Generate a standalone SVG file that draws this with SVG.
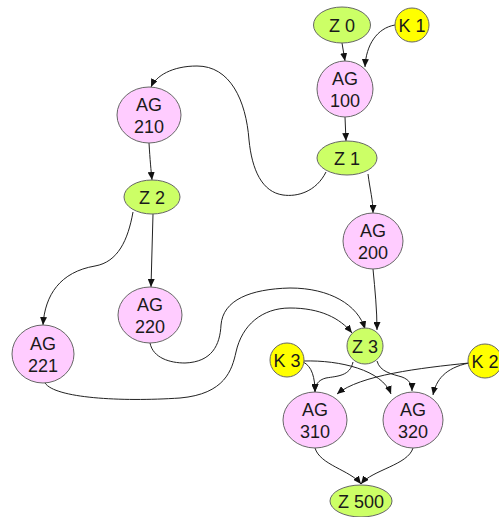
<svg xmlns="http://www.w3.org/2000/svg" width="499" height="517" viewBox="0 0 499 517">
  <style>
    .edge { fill: none; stroke: #222; stroke-width: 1; marker-end: url(#arrow); }
    .z { fill: #ccff66; stroke: #666; stroke-width: 1; }
    .ag { fill: #ffccff; stroke: #666; stroke-width: 1; }
    .k { fill: #ffff00; stroke: #666; stroke-width: 1; }
    text { font-family: "Liberation Sans", Arial, sans-serif; font-size: 18px; fill: #1a1a1a; text-anchor: middle; }
  </style>
  <defs>
    <marker id="arrow" markerUnits="userSpaceOnUse" markerWidth="8" markerHeight="7" refX="8" refY="3.5" orient="auto">
      <path d="M0,0 L8,3.5 L0,7 z" fill="#111"/>
    </marker>
  </defs>
  <rect width="499" height="517" fill="#fff"/>

  <g id="connectors">
    <path class="edge" d="M342,43 L345,61"/>
    <path class="edge" d="M395,25 C377,28 366,45 365,67"/>
    <path class="edge" d="M345,117 L346,141"/>
    <path class="edge" d="M326,172 C316,192 297,197 283,195 C262,192 252,170 249,140 C246,100 230,66 197,66 C172,66 156,76 151,87"/>
    <path class="edge" d="M368,174 C370,190 373,200 373,213"/>
    <path class="edge" d="M149,143 C150,160 151,170 152,180"/>
    <path class="edge" d="M133,212 C128,240 118,262 95,266 C60,272 45,295 43,325"/>
    <path class="edge" d="M153,214 L151,287"/>
    <path class="edge" d="M150,343 C153,358 170,363 185,363 C212,362 220,345 221,325 C223,300 250,289 290,288 C330,288 358,305 365,329"/>
    <path class="edge" d="M45,383 C55,398 120,402 180,398 C225,394 232,370 236,352 C242,325 262,308 290,308 C320,308 340,318 352,333"/>
    <path class="edge" d="M373,269 C375,290 377,310 377,330"/>
    <path class="edge" d="M353,362 C350,376 338,376 326,378 C318,380 315,385 315,392"/>
    <path class="edge" d="M303,362 C312,366 315,378 315,392"/>
    <path class="edge" d="M304,361 C340,360 382,370 391,394"/>
    <path class="edge" d="M377,361 C380,372 392,374 402,377 C410,380 412,385 412,391"/>
    <path class="edge" d="M469,363 C420,368 360,375 337,394"/>
    <path class="edge" d="M469,363 C445,368 436,380 433,395"/>
    <path class="edge" d="M315,448 C320,465 350,470 361,484"/>
    <path class="edge" d="M413,448 C408,465 372,470 361,484"/>
  </g>

  <g id="Z0"><ellipse class="z" cx="342" cy="25" rx="28.5" ry="18"/><text x="342" y="32">Z 0</text></g>
  <g id="K1"><circle class="k" cx="412" cy="25" r="17"/><text x="412" y="32">K 1</text></g>
  <g id="AG100"><ellipse class="ag" cx="345" cy="89" rx="28" ry="28"/><text x="345" y="85">AG</text><text x="345" y="107">100</text></g>
  <g id="Z1"><ellipse class="z" cx="347" cy="158" rx="30" ry="17"/><text x="347" y="165">Z 1</text></g>
  <g id="AG210"><ellipse class="ag" cx="149" cy="115" rx="32" ry="28"/><text x="149" y="111">AG</text><text x="149" y="133">210</text></g>
  <g id="Z2"><ellipse class="z" cx="152" cy="197" rx="28" ry="17"/><text x="152" y="204">Z 2</text></g>
  <g id="AG200"><ellipse class="ag" cx="373" cy="241" rx="30" ry="28"/><text x="373" y="237">AG</text><text x="373" y="259">200</text></g>
  <g id="AG220"><ellipse class="ag" cx="150" cy="315" rx="32" ry="28"/><text x="150" y="311">AG</text><text x="150" y="333">220</text></g>
  <g id="AG221"><ellipse class="ag" cx="43" cy="354" rx="31" ry="29"/><text x="43" y="350">AG</text><text x="43" y="372">221</text></g>
  <g id="Z3"><ellipse class="z" cx="365" cy="346" rx="18" ry="18"/><text x="365" y="353">Z 3</text></g>
  <g id="K3"><circle class="k" cx="287" cy="360" r="17"/><text x="287" y="367">K 3</text></g>
  <g id="K2"><circle class="k" cx="485" cy="361" r="17"/><text x="485" y="368">K 2</text></g>
  <g id="AG310"><ellipse class="ag" cx="315" cy="420" rx="32" ry="28"/><text x="315" y="416">AG</text><text x="315" y="438">310</text></g>
  <g id="AG320"><ellipse class="ag" cx="413" cy="420" rx="30" ry="28"/><text x="413" y="416">AG</text><text x="413" y="438">320</text></g>
  <g id="Z500"><ellipse class="z" cx="361" cy="501" rx="31" ry="16"/><text x="361" y="508">Z 500</text></g>
</svg>
